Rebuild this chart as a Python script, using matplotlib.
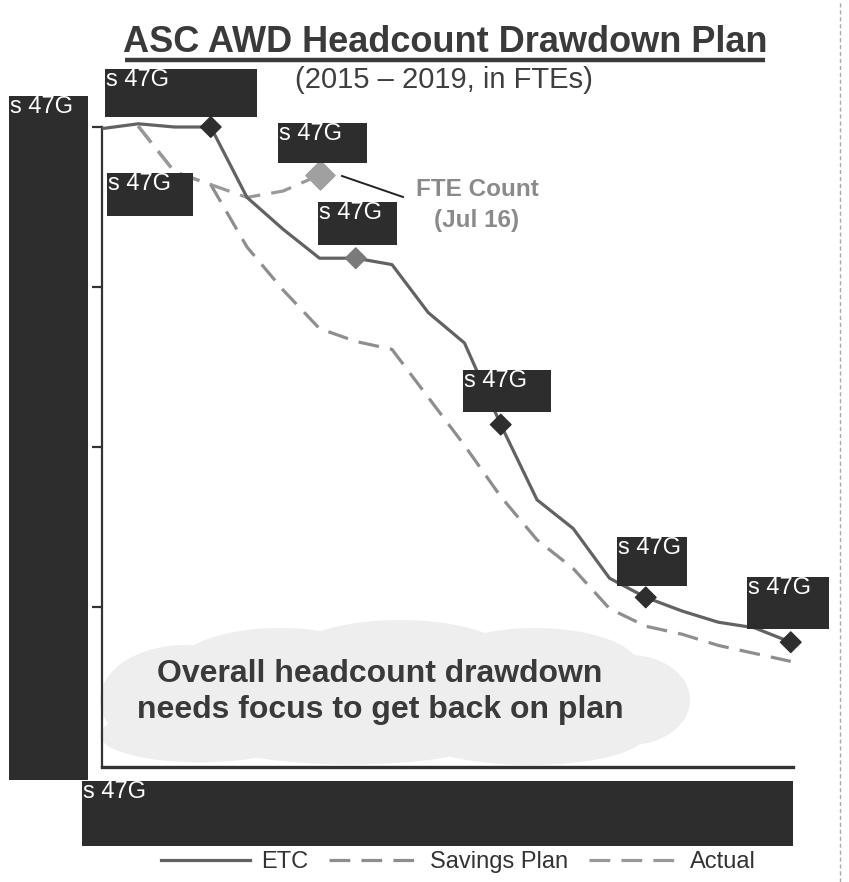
import matplotlib.pyplot as plt
from matplotlib.patches import Rectangle, Ellipse
from matplotlib.lines import Line2D

# Quarterly points, 2015 Q1 .. 2019 Q4 (FTEs)
quarters = [2015 + 0.25 * i for i in range(20)]
etc = [3990, 4020, 4000, 4000, 3560, 3360, 3180, 3180, 3140, 2840,
       2650, 2140, 1670, 1490, 1180, 1060, 975, 905, 870, 780]
plan_x = quarters[1:]
savings_plan = [4005, 3720, 3640, 3250, 2980, 2740, 2660, 2610, 2310,
                2010, 1690, 1420, 1240, 990, 880, 830, 760, 710, 660]
actual_x = [2015.25, 2015.5, 2015.75, 2016.0, 2016.25, 2016.5]
actual = [4005, 3720, 3640, 3560, 3600, 3700]
marker_x = [2015.75, 2016.75, 2017.75, 2018.75, 2019.75]
fte_count_x = 2016.5
fte_count = 3700

W, H = 849, 882
plt.rcParams['font.family'] = ['Liberation Sans', 'DejaVu Sans']

fig = plt.figure(figsize=(W / 100, H / 100), dpi=100)


def frac(x0, y0, x1, y1):
    return [x0 / W, 1 - y1 / H, (x1 - x0) / W, (y1 - y0) / H]


# background layer (cloud)
bg = fig.add_axes([0, 0, 1, 1], zorder=0)
bg.set_xlim(0, W)
bg.set_ylim(H, 0)
bg.axis('off')
for cx, cy, w, h in [(185, 700, 170, 110), (280, 668, 210, 80), (400, 660, 230, 80),
                     (535, 668, 210, 80), (630, 700, 120, 90), (530, 735, 230, 60),
                     (350, 742, 260, 45), (200, 735, 200, 55), (395, 700, 580, 90)]:
    bg.add_patch(Ellipse((cx, cy), w, h, color='#eeeeee', lw=0))

# main chart
ax = fig.add_axes(frac(102, 120, 793, 767), zorder=1)
ax.patch.set_alpha(0)
ax.set_xlim(2015.0, 2015 + 691 / 145)
ax.set_ylim(0, 647 * 6.25)

ax.plot(quarters, etc, color='#626262', lw=2.3, label='ETC', zorder=3)
ax.plot(plan_x, savings_plan, color='#8e8e8e', lw=2.3, dashes=(6.5, 3.5),
        label='Savings Plan', zorder=2)
ax.plot(actual_x, actual, color='#999999', lw=2.3, dashes=(6.5, 3.5),
        label='Actual', zorder=2)

etc_marks = [etc[quarters.index(x)] for x in marker_x]
ax.scatter(marker_x, etc_marks, marker='D', s=110,
           c=['#2e2e2e', '#7a7a7a', '#2e2e2e', '#2e2e2e', '#2e2e2e'],
           zorder=4, clip_on=False)
ax.scatter([fte_count_x], [fte_count], marker='D', s=220, c='#a0a0a0',
           zorder=4, clip_on=False)

ax.spines['top'].set_visible(False)
ax.spines['right'].set_visible(False)
ax.spines['left'].set_color('#333333')
ax.spines['left'].set_linewidth(1.6)
ax.spines['left'].set_bounds(0, 4000)
ax.spines['bottom'].set_color('#333333')
ax.spines['bottom'].set_linewidth(2.4)
ax.set_yticks([1000, 2000, 3000, 4000])
ax.set_xticks([])
ax.tick_params(axis='y', direction='out', length=7, width=1.6, color='#333333',
               labelleft=False)

# foreground layer (title, redaction boxes, notes)
fg = fig.add_axes([0, 0, 1, 1], zorder=5)
fg.set_xlim(0, W)
fg.set_ylim(H, 0)
fg.axis('off')

fg.text(445, 43, 'ASC AWD Headcount Drawdown Plan', ha='center', va='center',
        fontsize=26, fontweight='bold', color='#3a3a3a')
fg.plot([125, 765], [60, 60], color='#3a3a3a', lw=3.2, solid_capstyle='butt')
fg.text(444, 80, '(2015 \u2013 2019, in FTEs)', ha='center', va='center',
        fontsize=21, color='#3e3e3e')

boxes = [(9, 96, 88, 780), (105, 69, 257, 117), (107, 173, 193, 216),
         (278, 123, 367, 163), (318, 202, 397, 245), (463, 370, 551, 412),
         (617, 537, 687, 586), (747, 577, 829, 629), (82, 781, 793, 846)]
for x0, y0, x1, y1 in boxes:
    fg.add_patch(Rectangle((x0, y0), x1 - x0, y1 - y0, color='#2d2d2d', lw=0))
    fg.text(x0 + 1, y0, 's 47G', ha='left', va='top', fontsize=17,
            color='white')

fg.plot([342, 403], [176, 197], color='#222222', lw=1.4)
fg.text(477, 189, 'FTE Count', ha='center', va='center', fontsize=17.5,
        fontweight='bold', color='#8a8a8a')
fg.text(477, 220, '(Jul 16)', ha='center', va='center', fontsize=17.5,
        fontweight='bold', color='#8a8a8a')

fg.text(380, 674, 'Overall headcount drawdown', ha='center', va='center',
        fontsize=23, fontweight='bold', color='#3a3a3a')
fg.text(380, 710, 'needs focus to get back on plan', ha='center', va='center',
        fontsize=23, fontweight='bold', color='#3a3a3a')

fig.add_artist(Line2D([840 / W, 840 / W], [0, 1], color='#aaaaaa', lw=1,
                      dashes=(3, 2)))

handles, labels = ax.get_legend_handles_labels()
fig.legend(handles, labels, loc='center', bbox_to_anchor=(458 / W, 1 - 862 / H),
           ncol=3, frameon=False, handlelength=3.8, handletextpad=0.45,
           columnspacing=0.9, prop={'size': 17}, labelcolor='#333333')

fig.savefig('out.png', dpi=100)
